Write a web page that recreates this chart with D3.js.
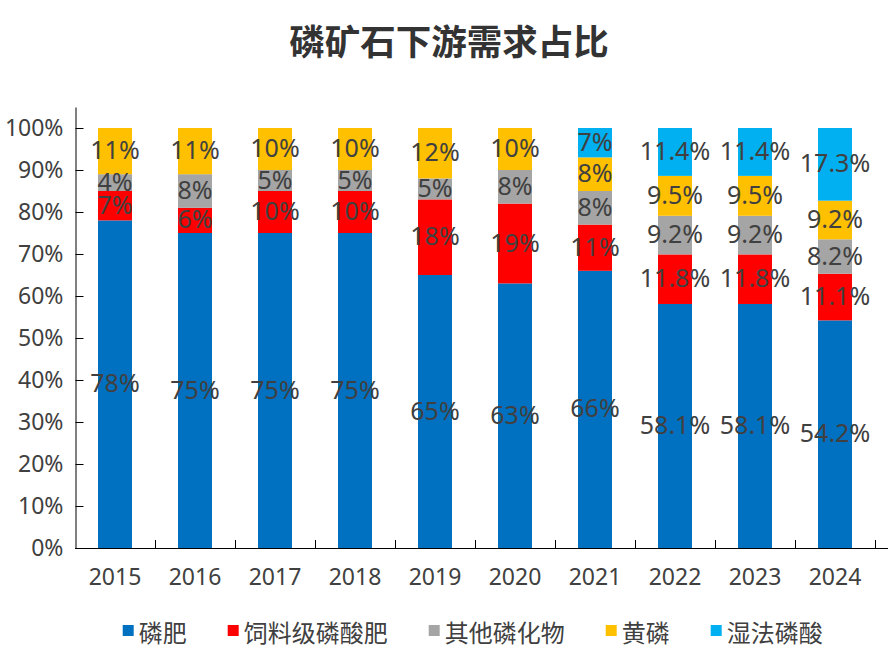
<!DOCTYPE html>
<html>
<head>
<meta charset="utf-8">
<script src="https://cdn.jsdelivr.net/npm/d3@7"></script>
<style>
  body { margin: 0; background: #fff; }
  svg { font-family: "Noto Sans CJK SC", "Noto Sans", sans-serif; }
</style>
</head>
<body>
<svg id="chart" width="888" height="665"></svg>
<script>
// 年份
const years = ["2015", "2016", "2017", "2018", "2019", "2020", "2021", "2022", "2023", "2024"];
// 各类需求占比（%）
const seriesNames = ["磷肥", "饲料级磷酸肥", "其他磷化物", "黄磷", "湿法磷酸"];
const fertilizer = [78, 75, 75, 75, 65, 63, 66, 58.1, 58.1, 54.2];
const feedGrade  = [7, 6, 10, 10, 18, 19, 11, 11.8, 11.8, 11.1];
const otherPhos  = [4, 8, 5, 5, 5, 8, 8, 9.2, 9.2, 8.2];
const yellowP    = [11, 11, 10, 10, 12, 10, 8, 9.5, 9.5, 9.2];
const wetAcid    = [0, 0, 0, 0, 0, 0, 7, 11.4, 11.4, 17.3];
const yTicks = [0, 10, 20, 30, 40, 50, 60, 70, 80, 90, 100];

const colors = ["#0070C0", "#FF0000", "#A5A5A5", "#FFC000", "#00B0F0"];
const textColor = "#404040";

const seriesValues = [fertilizer, feedGrade, otherPhos, yellowP, wetAcid];
const rows = years.map((yr, i) => {
  const r = { year: yr };
  seriesNames.forEach((s, k) => r[s] = seriesValues[k][i]);
  return r;
});
const stacked = d3.stack().keys(seriesNames)(rows);

const svg = d3.select("#chart");
const plotL = 75, plotR = 875, plotT = 107, plotB = 548;

const x = d3.scaleBand().domain(years).range([plotL, plotR]);
const y = d3.scaleLinear().domain([0, 105]).range([plotB, plotT]);
const barW = x.bandwidth() * 0.425;

// 标题
svg.append("text")
  .attr("x", 449).attr("y", 39)
  .attr("text-anchor", "middle")
  .attr("dominant-baseline", "central")
  .attr("font-size", 35.5).attr("font-weight", "bold")
  .attr("fill", "#333")
  .text("磷矿石下游需求占比");

// 柱子
const layer = svg.append("g").selectAll("g")
  .data(stacked).join("g")
  .attr("fill", (d, k) => colors[k]);

layer.selectAll("rect")
  .data(d => d).join("rect")
  .attr("x", d => x(d.data.year) + (x.bandwidth() - barW) / 2)
  .attr("y", d => y(d[1]))
  .attr("width", barW)
  .attr("height", d => y(d[0]) - y(d[1]));

// 数据标签
svg.append("g").selectAll("g")
  .data(stacked).join("g")
  .selectAll("text")
  .data(d => d.filter(v => v[1] - v[0] > 0)).join("text")
  .attr("x", d => x(d.data.year) + x.bandwidth() / 2)
  .attr("y", d => y((d[0] + d[1]) / 2) - 2)
  .attr("text-anchor", "middle")
  .attr("dominant-baseline", "central")
  .attr("font-family", "Noto Sans, sans-serif")
  .attr("font-size", 25)
  .attr("fill", textColor)
  .text(d => +(d[1] - d[0]).toFixed(1) + "%");

// y 轴
const yAxis = svg.append("g")
  .attr("transform", `translate(${plotL + 0.5},0)`)
  .call(d3.axisLeft(y).tickValues(yTicks)
    .tickSizeInner(-8).tickSizeOuter(0).tickPadding(12)
    .tickFormat(d => d + "%"));
yAxis.selectAll("path, line").attr("stroke", "#000");
yAxis.selectAll("text")
  .attr("font-family", "Noto Sans, sans-serif")
  .attr("font-size", 23).attr("fill", textColor);

// x 轴
const xg = svg.append("g");
xg.append("line")
  .attr("x1", plotL).attr("x2", 888)
  .attr("y1", plotB + 0.5).attr("y2", plotB + 0.5)
  .attr("stroke", "#000");
xg.selectAll("line.tick")
  .data(years).join("line")
  .attr("class", "tick")
  .attr("x1", d => x(d) + x.bandwidth() + 0.5)
  .attr("x2", d => x(d) + x.bandwidth() + 0.5)
  .attr("y1", plotB).attr("y2", plotB - 8)
  .attr("stroke", "#000");
xg.selectAll("text")
  .data(years).join("text")
  .attr("x", d => x(d) + x.bandwidth() / 2)
  .attr("y", 576)
  .attr("text-anchor", "middle")
  .attr("dominant-baseline", "central")
  .attr("font-family", "Noto Sans, sans-serif")
  .attr("font-size", 23).attr("fill", textColor)
  .text(d => d);

// 图例
const legend = svg.append("g");
let lx = 122.7;
seriesNames.forEach((s, k) => {
  legend.append("rect")
    .attr("x", lx).attr("y", 625)
    .attr("width", 11).attr("height", 11)
    .attr("fill", colors[k]);
  const t = legend.append("text")
    .attr("x", lx + 16).attr("y", 631)
    .attr("dominant-baseline", "central")
    .attr("font-size", 24).attr("fill", textColor)
    .text(s);
  lx += 16 + t.node().getComputedTextLength() + 41;
});
</script>
</body>
</html>
